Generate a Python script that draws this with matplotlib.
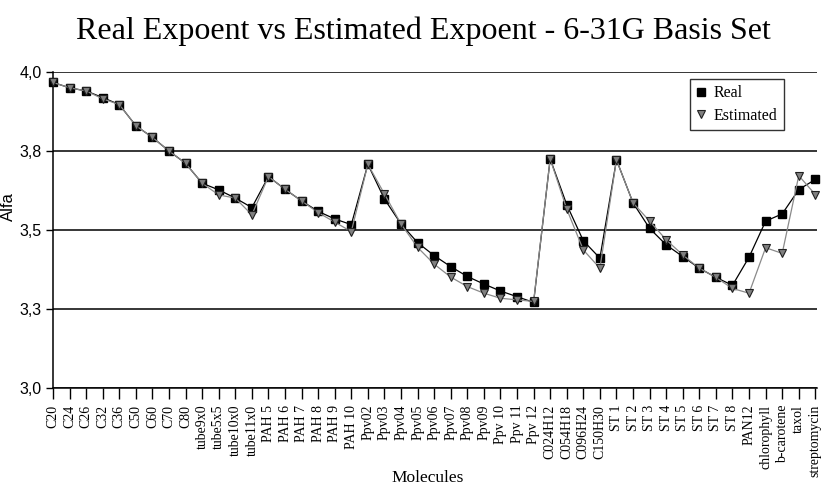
import matplotlib
matplotlib.use("Agg")
import matplotlib.pyplot as plt
from matplotlib.font_manager import findfont, FontProperties

molecules = ["C20", "C24", "C26", "C32", "C36", "C50", "C60", "C70", "C80",
             "tube9x0", "tube5x5", "tube10x0", "tube11x0",
             "PAH 5", "PAH 6", "PAH 7", "PAH 8", "PAH 9", "PAH 10",
             "Ppv02", "Ppv03", "Ppv04", "Ppv05", "Ppv06", "Ppv07", "Ppv08", "Ppv09",
             "Ppv 10", "Ppv 11", "Ppv 12",
             "C024H12", "C054H18", "C096H24", "C150H30",
             "ST 1", "ST 2", "ST 3", "ST 4", "ST 5", "ST 6", "ST 7", "ST 8",
             "PAN12", "chlorophyll", "b-carotene", "taxol", "streptomycin"]

real = [3.967, 3.950, 3.940, 3.919, 3.897, 3.830, 3.793, 3.750, 3.711,
        3.648, 3.627, 3.601, 3.571,
        3.669, 3.629, 3.592, 3.559, 3.535, 3.517,
        3.708, 3.598, 3.519, 3.460, 3.419, 3.384, 3.353, 3.329,
        3.307, 3.289, 3.271,
        3.725, 3.580, 3.466, 3.411,
        3.722, 3.586, 3.505, 3.453, 3.416, 3.379, 3.350, 3.325,
        3.414, 3.528, 3.551, 3.628, 3.660]

estimated = [3.967, 3.950, 3.940, 3.915, 3.897, 3.830, 3.793, 3.750, 3.711,
             3.648, 3.611, 3.601, 3.548,
             3.669, 3.629, 3.592, 3.555, 3.525, 3.495,
             3.708, 3.614, 3.519, 3.445, 3.392, 3.351, 3.321, 3.300,
             3.284, 3.279, 3.274,
             3.725, 3.566, 3.437, 3.379,
             3.722, 3.586, 3.528, 3.469, 3.421, 3.379, 3.350, 3.315,
             3.300, 3.444, 3.426, 3.672, 3.612]

y_ticks = [3.0, 3.25, 3.5, 3.75, 4.0]
y_tick_labels = ["3,0", "3,3", "3,5", "3,8", "4,0"]

serif = ["Liberation Serif", "DejaVu Serif"]
try:
    fp = findfont(FontProperties(family="Liberation Sans Narrow"), fallback_to_default=False)
    sans = ["Liberation Sans Narrow", "Liberation Sans"]
except Exception:
    sans = ["Liberation Sans"]

fig = plt.figure(figsize=(8.25, 4.86), dpi=100)
ax_w = 764
ax = fig.add_axes([53 / 825, 1 - 388 / 486, ax_w / 825, 316 / 486])

x = list(range(len(molecules)))
ax.plot(x, real, color="black", lw=0.9, marker="s", markersize=6,
        markerfacecolor="black", markeredgecolor="black", label="Real",
        clip_on=False, zorder=3)
ax.plot(x, estimated, color="#8a8a8a", lw=0.9, marker="v", markersize=5.5,
        markerfacecolor="#808080", markeredgecolor="#202020", markeredgewidth=0.8,
        label="Estimated", clip_on=False, zorder=4)

ax.set_xlim(0, len(molecules) - 1 + 0.1)
ax.set_ylim(3.0, 4.0)
ax.set_yticks(y_ticks)
ax.set_yticklabels(y_tick_labels, family=sans, fontsize=11.5)
ax.set_xticks(x)
ax.set_xticklabels(molecules, rotation=90, family=serif, fontsize=10)
ax.tick_params(axis="x", direction="out", length=8, width=1, pad=4, color="black")
ax.tick_params(axis="y", direction="out", length=5, width=1, pad=3, color="black")

for yv in y_ticks:
    ax.axhline(yv, color="black", lw=1.1, zorder=1)

for s in ["top", "right"]:
    ax.spines[s].set_visible(False)
ax.spines["left"].set_linewidth(1.1)
ax.spines["bottom"].set_linewidth(1.1)

ax.set_ylabel("Alfa", family=sans, fontsize=12)
ax.yaxis.set_label_coords(-(53 - 16) / ax_w, (388 - 207) / 316)
ax.set_xlabel("Molecules", family=serif, fontsize=12.5)
ax.xaxis.set_label_coords((428 - 53) / ax_w, -(470 - 388) / 316)

fig.text(423 / 825, 1 - 31 / 486, "Real Expoent vs Estimated Expoent - 6-31G Basis Set",
         ha="center", va="center", family=serif, fontsize=23)

leg = ax.legend(loc="upper right", bbox_to_anchor=((784 - 53) / ax_w, 0.978),
                prop={"family": serif, "size": 11.5}, frameon=True, fancybox=False,
                handlelength=0.6, handletextpad=0.5, borderpad=0.4, labelspacing=0.4,
                borderaxespad=0)
leg.get_frame().set_edgecolor("black")
leg.get_frame().set_linewidth(1.0)
for h in leg.get_lines():
    h.set_linestyle("none")

fig.savefig("out.png", dpi=100)
